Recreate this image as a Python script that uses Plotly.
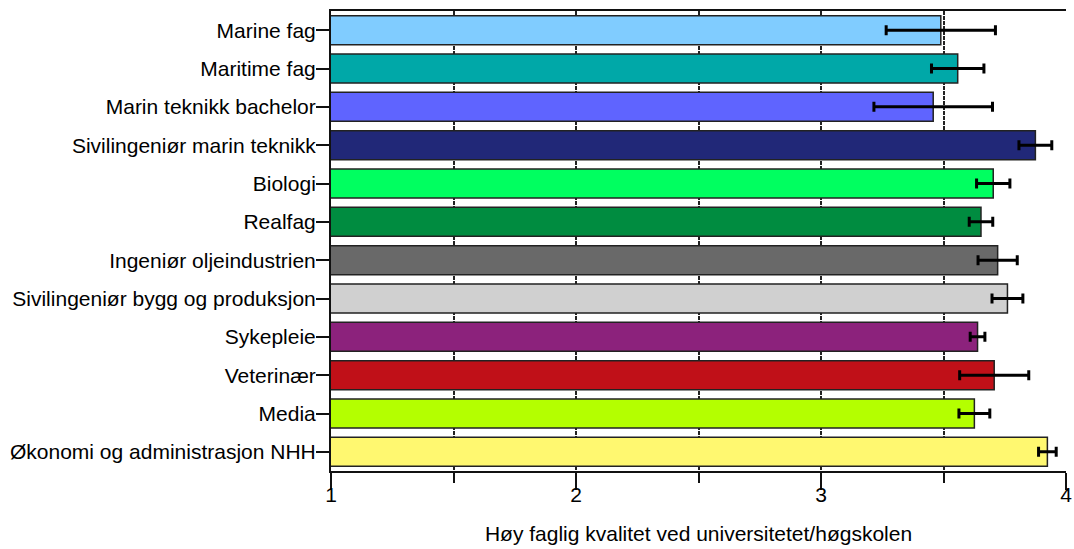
import plotly.graph_objects as go

categories = [
    "Marine fag", "Maritime fag", "Marin teknikk bachelor", "Sivilingeniør marin teknikk",
    "Biologi", "Realfag", "Ingeniør oljeindustrien", "Sivilingeniør bygg og produksjon",
    "Sykepleie", "Veterinær", "Media", "Økonomi og administrasjon NHH",
]
values = [3.489, 3.558, 3.458, 3.875, 3.703, 3.653, 3.721, 3.761, 3.639, 3.707, 3.626, 3.924]
errors = [0.223, 0.107, 0.242, 0.067, 0.068, 0.048, 0.080, 0.063, 0.030, 0.141, 0.063, 0.036]
colors = ["#80CCFF", "#00A8A8", "#5F64FF", "#212878", "#00FF60", "#008C40",
          "#696969", "#D0D0D0", "#8C227C", "#C01018", "#B4FF00", "#FFF870"]
x_ticks = [1, 2, 3, 4]
x_title = "Høy faglig kvalitet ved universitetet/høgskolen"

fig = go.Figure(go.Bar(
    y=categories, x=values, orientation="h",
    marker=dict(color=colors, line=dict(color="#222222", width=1.5)),
    error_x=dict(type="data", array=errors, color="black", thickness=3, width=5),
    width=0.755,
))

font = "Liberation Sans, Arial, sans-serif"
fig.update_layout(
    width=1074, height=549,
    margin=dict(l=331, r=8, t=11, b=78),
    paper_bgcolor="white", plot_bgcolor="white",
    showlegend=False,
    font=dict(family=font, size=21, color="black"),
    xaxis=dict(
        range=[1, 4], tickvals=x_ticks, ticktext=[str(t) for t in x_ticks],
        ticks="outside", ticklen=17, tickwidth=2, tickcolor="#111",
        showline=True, linecolor="#111", linewidth=2, mirror=True,
        showgrid=True, gridcolor="#222", gridwidth=2, griddash="4px,1px",
        minor=dict(tickvals=[1.5, 2.5, 3.5], ticks="outside", ticklen=10, tickwidth=2,
                   tickcolor="#111", showgrid=True, gridcolor="#222", gridwidth=2,
                   griddash="4px,1px"),
        title=dict(text=x_title, font=dict(size=21), standoff=21),
        tickfont=dict(size=21), zeroline=False, automargin=False,
        ticklabelstandoff=-13, ticklabeloverflow="allow",
    ),
    yaxis=dict(
        categoryorder="array", categoryarray=categories, autorange="reversed",
        ticks="outside", ticklen=13, tickwidth=1.5, tickcolor="#111",
        showline=True, linecolor="#111", linewidth=2,
        tickfont=dict(size=21), showgrid=False, ticklabelstandoff=-4,
        automargin=False,
    ),
)
fig.write_html(
    "out.html",
    config={"displayModeBar": False},
    post_script="document.body.style.margin='0';document.body.style.overflow='hidden';",
)
